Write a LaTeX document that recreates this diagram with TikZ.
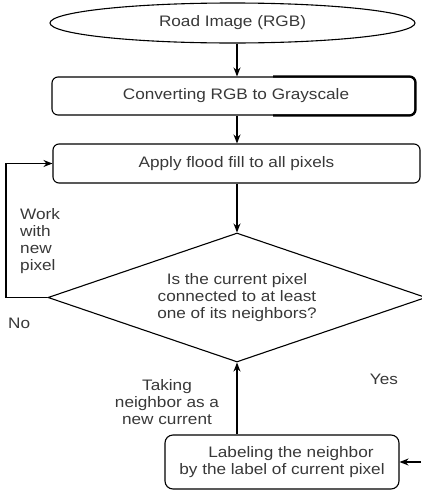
\documentclass[tikz,border=0pt]{standalone}
\usepackage{fontspec}
\setmainfont[FakeStretch=1.13]{Liberation Sans}
\usetikzlibrary{shapes.geometric,arrows.meta}
\begin{document}
\begin{tikzpicture}[x=1pt,y=-1pt,
  every node/.style={font=\fontsize{15.2}{17}\selectfont, text=black!78},
  proc/.style={draw, rounded corners=6pt, line width=1.1pt, inner sep=0pt, align=center},
  arr/.style={-{Stealth[length=9pt,width=7pt]}, line width=1.2pt},
  lbl/.style={align=center, inner sep=0pt}]
\useasboundingbox (0,0) rectangle (421,493);
\node[draw, ellipse, line width=1.1pt, minimum width=365, minimum height=40, inner sep=0pt] (ell) at (232.5,23) {Road Image (RGB)};
\node[proc, minimum width=363, minimum height=38] (box2) at (233.5,96) {\hspace*{5pt}Converting RGB to Grayscale};
\node[proc, minimum width=367, minimum height=39] (box3) at (236.5,163.5) {Apply flood fill to all pixels};
\node[draw, diamond, line width=1.1pt, minimum width=378, minimum height=129, inner sep=0pt] (dec) at (237,297.5) {};
\node[lbl] (dectext) at (dec.center) {Is the current pixel\\connected to at least\\one of its neighbors?};
\node[proc, rounded corners=8pt, minimum width=234, minimum height=54] (box4) at (282,462) {\hspace*{18pt}Labeling the neighbor\\by the label of current pixel};
% thicker overlay on right part of box2
\draw[line width=2.2pt, rounded corners=6pt] (box2.north -| 273,0) -- (box2.north east) -- (box2.south east) -- (box2.south -| 273,0);
\coordinate (loopx) at (6,0);
\coordinate (yesin) at (421,462);
\draw[arr] (ell.south -| dec.north) -- (box2.north -| dec.north);
\draw[arr] (box2.south -| dec.north) -- (box3.north -| dec.north);
\draw[arr] (box3.south -| dec.north) -- (dec.north);
\draw[arr] (box4.north -| dec.south) -- (dec.south);
\draw[arr] (dec.west) -- (dec.west -| loopx) |- (box3.west);
\draw[arr] (yesin) -- (box4.east);
\node[inner sep=0pt, align=left, anchor=north west] (work) at (20,208) {Work\\with\\new\\pixel};
\node[inner sep=0pt, anchor=west] (no) at (8,323) {No};
\node[lbl] (taking) at (167,402) {Taking\\neighbor as a\\new current};
\node[inner sep=0pt] (yes) at (384,379) {Yes};
\end{tikzpicture}
\end{document}
